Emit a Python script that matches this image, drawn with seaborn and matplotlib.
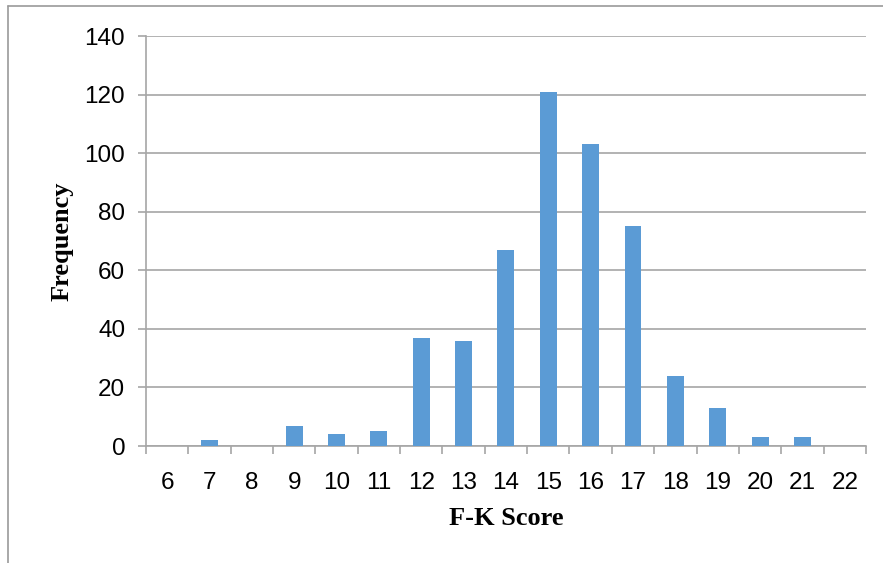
import pandas as pd
import matplotlib.pyplot as plt
import matplotlib.lines as mlines
import seaborn as sns

# F-K score histogram values
scores = [6, 7, 8, 9, 10, 11, 12, 13, 14, 15, 16, 17, 18, 19, 20, 21, 22]
frequency = [0, 2, 0, 7, 4, 5, 37, 36, 67, 121, 103, 75, 24, 13, 3, 3, 0]
y_ticks = [0, 20, 40, 60, 80, 100, 120, 140]

df = pd.DataFrame({"score": [str(s) for s in scores], "freq": frequency})

sns.set_theme(style="white")
grid_col = "#A6A6A6"

fig = plt.figure(figsize=(8.83, 5.63), dpi=100)
ax = fig.add_axes([0.1653, 0.2078, 0.8154, 0.7282])

sns.barplot(data=df, x="score", y="freq", color="#5B9BD5", width=0.4,
            saturation=1, linewidth=0, ax=ax, zorder=3)

ax.set_xlim(-0.5, len(scores) - 0.5)
ax.set_ylim(0, 140)
ax.set_yticks(y_ticks)
ax.yaxis.grid(True, color=grid_col, linewidth=1.2, zorder=0)
ax.set_axisbelow(True)

# tick marks sit between categories, like Excel
ax.set_xticks([i - 0.5 for i in range(len(scores) + 1)], minor=True)
ax.tick_params(axis="x", which="major", length=0, pad=19, labelsize=17.5)
ax.tick_params(axis="x", which="minor", length=6, color=grid_col, width=1.2,
               direction="out", bottom=True)
ax.tick_params(axis="y", length=6, color=grid_col, width=1.2, direction="out",
               left=True, pad=9, labelsize=17.5)
for lab in ax.get_xticklabels() + ax.get_yticklabels():
    lab.set_fontfamily(["Liberation Sans", "DejaVu Sans"])
    lab.set_color("black")

for side in ["top", "right"]:
    ax.spines[side].set_visible(False)
for side in ["left", "bottom"]:
    ax.spines[side].set_color(grid_col)
    ax.spines[side].set_linewidth(1.2)

ax.set_xlabel("F-K Score", fontsize=19, fontweight="bold", color="black",
              family=["Liberation Serif", "DejaVu Serif"], labelpad=9)
ax.set_ylabel("Frequency", fontsize=19, fontweight="bold", color="black",
              family=["Liberation Serif", "DejaVu Serif"], labelpad=8)

# chart frame (top and left edges visible)
fig.add_artist(mlines.Line2D([8 / 883, 1], [1 - 6 / 563, 1 - 6 / 563],
                             transform=fig.transFigure, color="#9A9A9A", lw=1.2))
fig.add_artist(mlines.Line2D([8 / 883, 8 / 883], [0, 1 - 6 / 563],
                             transform=fig.transFigure, color="#9A9A9A", lw=1.2))

fig.savefig("out.png", dpi=100)
plt.close(fig)
